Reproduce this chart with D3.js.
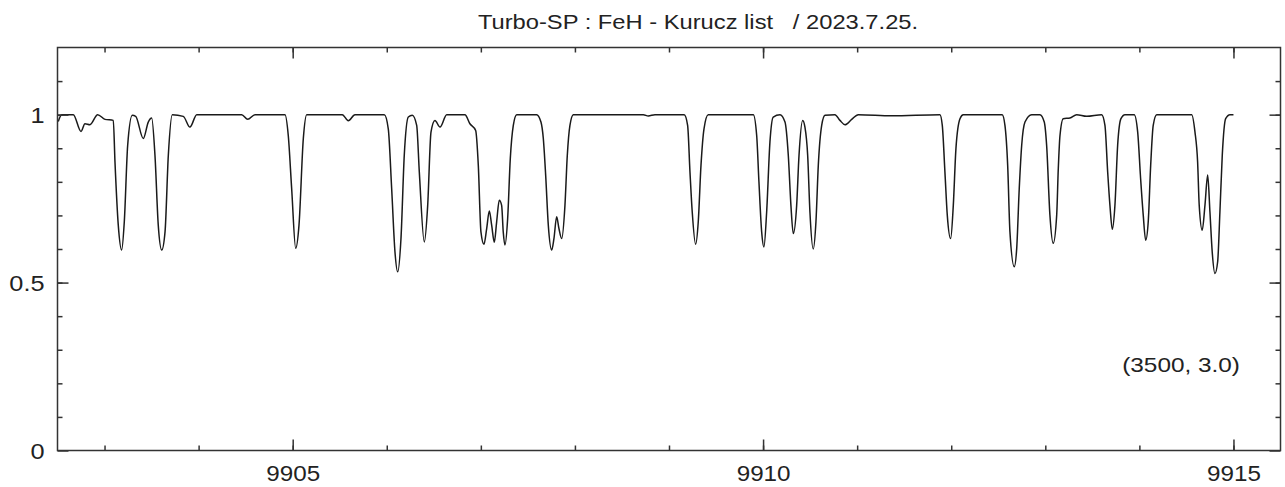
<!DOCTYPE html>
<html>
<head>
<meta charset="utf-8">
<script src="https://cdn.jsdelivr.net/npm/d3@7"></script>
<style>
  html, body { margin: 0; padding: 0; background: #fff; }
  svg { display: block; }
  text { font-family: "Liberation Sans", Arial, sans-serif; fill: #222; white-space: pre; }
</style>
</head>
<body>
<svg id="chart" width="1285" height="487"></svg>
<script>
const title = "Turbo-SP : FeH - Kurucz list   / 2023.7.25.";
const annotation = "(3500, 3.0)";

const wavelength = [
  9902.508, 9902.545, 9902.668, 9902.750, 9902.792, 9902.845, 9902.927, 9903.005, 9903.093, 9903.111,
  9903.146, 9903.182, 9903.210, 9903.246, 9903.295, 9903.331, 9903.412, 9903.465, 9903.501, 9903.536,
  9903.571, 9903.608, 9903.643, 9903.678, 9903.720, 9903.837, 9903.908, 9903.980, 9904.458, 9904.522,
  9904.599, 9904.918, 9904.953, 9904.989, 9905.032, 9905.067, 9905.113, 9905.149, 9905.527, 9905.591,
  9905.662, 9905.974, 9906.016, 9906.052, 9906.087, 9906.116, 9906.151, 9906.186, 9906.229, 9906.271,
  9906.318, 9906.346, 9906.399, 9906.435, 9906.470, 9906.512, 9906.566, 9906.637, 9906.831, 9906.884,
  9906.945, 9906.973, 9907.001, 9907.033, 9907.062, 9907.090, 9907.115, 9907.143, 9907.168, 9907.196,
  9907.221, 9907.238, 9907.256, 9907.285, 9907.313, 9907.345, 9907.381, 9907.593, 9907.639, 9907.664,
  9907.689, 9907.717, 9907.753, 9907.777, 9907.806, 9907.830, 9907.859, 9907.894, 9907.919, 9907.947,
  9907.983, 9908.727, 9908.780, 9908.851, 9909.162, 9909.198, 9909.223, 9909.247, 9909.283, 9909.311,
  9909.340, 9909.372, 9909.417, 9909.896, 9909.932, 9909.956, 9909.985, 9910.009, 9910.038, 9910.073,
  9910.108, 9910.180, 9910.233, 9910.268, 9910.296, 9910.321, 9910.357, 9910.382, 9910.421, 9910.445,
  9910.474, 9910.498, 9910.533, 9910.562, 9910.587, 9910.623, 9910.658, 9910.764, 9910.817, 9910.871,
  9910.942, 9911.012, 9911.367, 9911.880, 9911.905, 9911.933, 9911.958, 9911.994, 9912.022, 9912.050,
  9912.093, 9912.128, 9912.542, 9912.571, 9912.600, 9912.624, 9912.670, 9912.696, 9912.723, 9912.749,
  9912.784, 9912.855, 9912.943, 9912.989, 9913.014, 9913.049, 9913.084, 9913.121, 9913.138, 9913.156,
  9913.191, 9913.262, 9913.333, 9913.440, 9913.599, 9913.634, 9913.663, 9913.687, 9913.712, 9913.740,
  9913.769, 9913.804, 9913.847, 9913.945, 9913.982, 9914.013, 9914.041, 9914.067, 9914.094, 9914.120,
  9914.147, 9914.184, 9914.556, 9914.591, 9914.619, 9914.636, 9914.668, 9914.697, 9914.726, 9914.750,
  9914.774, 9914.803, 9914.832, 9914.856, 9914.881, 9914.917, 9914.963, 9915.000
];

const flux = [
  0.980, 1.000, 1.000, 0.950, 0.973, 0.970, 1.000, 0.986, 0.983, 0.859,
  0.671, 0.597, 0.681, 0.909, 0.998, 0.995, 0.929, 0.978, 0.990, 0.879,
  0.671, 0.597, 0.651, 0.879, 1.000, 0.995, 0.963, 1.000, 1.000, 0.986,
  1.000, 1.000, 0.938, 0.780, 0.602, 0.671, 0.929, 1.000, 1.000, 0.982,
  1.000, 1.000, 0.958, 0.780, 0.592, 0.532, 0.631, 0.879, 0.993, 0.998,
  0.968, 0.829, 0.621, 0.730, 0.948, 0.983, 0.963, 1.000, 1.000, 0.973,
  0.953, 0.849, 0.651, 0.614, 0.661, 0.713, 0.671, 0.620, 0.681, 0.745,
  0.730, 0.651, 0.612, 0.691, 0.869, 0.968, 1.000, 1.000, 0.978, 0.929,
  0.820, 0.671, 0.597, 0.631, 0.696, 0.661, 0.631, 0.730, 0.879, 0.968,
  1.000, 1.000, 0.996, 1.000, 1.000, 0.968, 0.829, 0.710, 0.614, 0.681,
  0.849, 0.958, 1.000, 1.000, 0.938, 0.800, 0.651, 0.606, 0.710, 0.919,
  0.993, 1.000, 0.978, 0.879, 0.730, 0.646, 0.730, 0.879, 0.983, 0.963,
  0.879, 0.710, 0.600, 0.681, 0.849, 0.968, 0.998, 1.000, 0.983, 0.970,
  0.986, 1.000, 0.997, 1.000, 0.968, 0.829, 0.701, 0.631, 0.730, 0.899,
  0.988, 1.000, 1.000, 0.968, 0.849, 0.651, 0.547, 0.602, 0.780, 0.909,
  0.978, 1.000, 1.000, 0.978, 0.909, 0.701, 0.617, 0.701, 0.839, 0.938,
  0.988, 0.990, 1.000, 0.995, 1.000, 0.968, 0.829, 0.730, 0.659, 0.730,
  0.909, 0.988, 1.000, 1.000, 0.948, 0.810, 0.701, 0.626, 0.681, 0.849,
  0.968, 1.000, 1.000, 0.948, 0.859, 0.730, 0.656, 0.730, 0.820, 0.710,
  0.592, 0.527, 0.562, 0.710, 0.879, 0.988, 1.000, 1.000
];

const xDomain = [9902.5, 9915.5];
const yDomain = [0, 1.2];
const xMajorTicks = [9905, 9910, 9915];
const xMinorTicks = [9903, 9904, 9905, 9906, 9907, 9908, 9909, 9910, 9911, 9912, 9913, 9914, 9915];
const yMajorTicks = [0, 0.5, 1];
const yMinorTicks = [0.1, 0.2, 0.3, 0.4, 0.5, 0.6, 0.7, 0.8, 0.9, 1.0, 1.1];
const yTickLabels = ["0", "0.5", "1"];

const svg = d3.select("#chart");
const L = 57.5, R = 1280.5, T = 47.5, B = 450.5;

const x = d3.scaleLinear().domain(xDomain).range([L, R]);
const y = d3.scaleLinear().domain(yDomain).range([B, T]);

const axisColor = "#333";
const minorLen = 5, majorLen = 11;

// spectrum
const data = wavelength.map((w, i) => [w, flux[i]]);
const line = d3.line().x(d => x(d[0])).y(d => y(d[1])).curve(d3.curveMonotoneX);
svg.append("path")
  .datum(data)
  .attr("d", line)
  .attr("fill", "none")
  .attr("stroke", "#1a1a1a")
  .attr("stroke-width", 1.5)
  .attr("stroke-linejoin", "round");

// frame
svg.append("rect")
  .attr("x", L).attr("y", T).attr("width", R - L).attr("height", B - T)
  .attr("fill", "none").attr("stroke", axisColor).attr("stroke-width", 1.5);

// axes with inward ticks on all four sides
const fmt = d => "";
const bottomMinor = d3.axisBottom(x).tickValues(xMinorTicks).tickSize(-minorLen).tickFormat(fmt);
const bottomMajor = d3.axisBottom(x).tickValues(xMajorTicks).tickSize(-majorLen).tickFormat(d3.format("d"));
const topMinor = d3.axisTop(x).tickValues(xMinorTicks).tickSize(-minorLen).tickFormat(fmt);
const topMajor = d3.axisTop(x).tickValues(xMajorTicks).tickSize(-majorLen).tickFormat(fmt);
const leftMinor = d3.axisLeft(y).tickValues(yMinorTicks).tickSize(-minorLen).tickFormat(fmt);
const leftMajor = d3.axisLeft(y).tickValues(yMajorTicks).tickSize(-majorLen).tickFormat((d, i) => yTickLabels[i]);
const rightMinor = d3.axisRight(y).tickValues(yMinorTicks).tickSize(-minorLen).tickFormat(fmt);
const rightMajor = d3.axisRight(y).tickValues(yMajorTicks).tickSize(-majorLen).tickFormat(fmt);

function place(axis, tx, ty) {
  const g = svg.append("g").attr("transform", `translate(${tx},${ty})`).call(axis);
  g.select(".domain").remove();
  g.selectAll(".tick line").attr("stroke", axisColor).attr("stroke-width", 1.5);
  g.selectAll(".tick text").attr("font-size", 22).attr("fill", "#222")
    .attr("font-family", "Liberation Sans, Arial, sans-serif");
  return g;
}
place(bottomMinor, 0, B);
const bm = place(bottomMajor, 0, B);
bm.selectAll(".tick text").attr("dy", "0").attr("x", 0).attr("y", 0)
  .attr("transform", "translate(0,30) scale(1.1,1)");
place(topMinor, 0, T);
place(topMajor, 0, T);
place(leftMinor, L, 0);
const lm = place(leftMajor, L, 0);
lm.selectAll(".tick text").attr("dy", "0.36em").attr("x", 0)
  .attr("transform", "translate(-13,0) scale(1.15,1)");
place(rightMinor, R, 0);
place(rightMajor, R, 0);

// title
svg.append("text")
  .attr("transform", "translate(698,29) scale(1.13,1)")
  .attr("text-anchor", "middle")
  .attr("font-size", 21)
  .text(title);

// annotation
svg.append("text")
  .attr("transform", "translate(1240,372) scale(1.16,1)")
  .attr("text-anchor", "end")
  .attr("font-size", 21)
  .text(annotation);
</script>
</body>
</html>
